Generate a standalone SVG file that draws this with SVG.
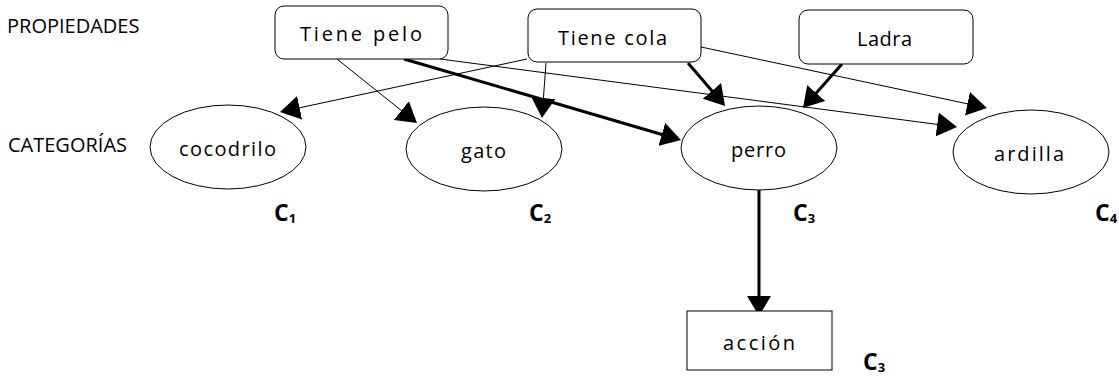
<svg xmlns="http://www.w3.org/2000/svg" width="1119" height="376" viewBox="0 0 1119 376">
  <style>
    text { font-family: "Open Sans", "Noto Sans", "Liberation Sans", sans-serif; fill: #000; }
    .side { font-size: 20px; }
    .lbl { font-size: 20px; }
    .cls { font-size: 23px; font-weight: bold; }
    .cls tspan.sub { font-size: 13px; }
    .prop { fill: #fff; stroke: #000; stroke-width: 1; }
    .cat { fill: #fff; stroke: #000; stroke-width: 1; }
    .act { fill: #fff; stroke: #000; stroke-width: 1; }
    .thin { stroke: #000; stroke-width: 1; fill: none; marker-end: url(#arrow); }
    .thick { stroke: #000; stroke-width: 3; fill: none; marker-end: url(#arrow); }
  </style>
  <defs>
    <marker id="arrow" markerUnits="userSpaceOnUse" markerWidth="20" markerHeight="24" viewBox="0 0 20 24" refX="10" refY="12" orient="auto">
      <path d="M0,0 L20,12 L0,24 z" fill="#000"/>
    </marker>
  </defs>

  <rect width="1119" height="376" fill="#fff"/>

  <!-- row headings -->
  <g id="headings">
    <text class="side" x="7" y="33">PROPIEDADES</text>
    <text class="side" x="8" y="152">CATEGORÍAS</text>
  </g>

  <!-- connectors -->
  <g id="connectors">
    <line class="thin" x1="337" y1="59" x2="409.2" y2="116.8"/>
    <line class="thick" x1="404" y1="59" x2="671.4" y2="137.2"/>
    <line class="thin" x1="440" y1="59" x2="947.1" y2="125.7"/>
    <line class="thin" x1="527" y1="59" x2="289.8" y2="109.9"/>
    <line class="thin" x1="546" y1="63" x2="542.7" y2="108"/>
    <line class="thick" x1="688" y1="63" x2="718.5" y2="98.4"/>
    <line class="thin" x1="701" y1="47" x2="977.2" y2="105.9"/>
    <line class="thick" x1="842" y1="64" x2="809.6" y2="100.5"/>
    <line class="thick" x1="759" y1="190" x2="759" y2="306"/>
  </g>

  <!-- properties -->
  <g id="tiene-pelo">
    <rect class="prop" x="275" y="6" width="173" height="53" rx="9"/>
    <text class="lbl" x="300" y="41" textLength="122" lengthAdjust="spacing">Tiene pelo</text>
  </g>
  <g id="tiene-cola">
    <rect class="prop" x="528" y="9" width="173" height="53" rx="9"/>
    <text class="lbl" x="558" y="45" textLength="109" lengthAdjust="spacing">Tiene cola</text>
  </g>
  <g id="ladra">
    <rect class="prop" x="799" y="10" width="174" height="54" rx="9"/>
    <text class="lbl" x="857" y="46" textLength="55" lengthAdjust="spacing">Ladra</text>
  </g>

  <!-- categories -->
  <g id="cocodrilo">
    <ellipse class="cat" cx="228" cy="147" rx="78" ry="42"/>
    <text class="lbl" x="179" y="156" textLength="97" lengthAdjust="spacing">cocodrilo</text>
  </g>
  <g id="gato">
    <ellipse class="cat" cx="484" cy="149" rx="78" ry="42"/>
    <text class="lbl" x="461" y="158" textLength="45" lengthAdjust="spacing">gato</text>
  </g>
  <g id="perro">
    <ellipse class="cat" cx="759" cy="148" rx="78" ry="42"/>
    <text class="lbl" x="731" y="157" textLength="55" lengthAdjust="spacing">perro</text>
  </g>
  <g id="ardilla">
    <ellipse class="cat" cx="1031" cy="152" rx="78" ry="42"/>
    <text class="lbl" x="994" y="161" textLength="70" lengthAdjust="spacing">ardilla</text>
  </g>

  <!-- action -->
  <g id="accion">
    <rect class="act" x="687" y="311" width="145" height="59"/>
    <text class="lbl" x="723" y="350" textLength="72" lengthAdjust="spacing">acción</text>
  </g>

  <!-- class labels -->
  <g id="class-labels">
    <text class="cls" x="274" y="221">C<tspan class="sub" dy="2">1</tspan></text>
    <text class="cls" x="529" y="221">C<tspan class="sub" dy="2">2</tspan></text>
    <text class="cls" x="793" y="221">C<tspan class="sub" dy="2">3</tspan></text>
    <text class="cls" x="1095" y="221">C<tspan class="sub" dy="2">4</tspan></text>
    <text class="cls" x="863" y="370">C<tspan class="sub" dy="2">3</tspan></text>
  </g>
</svg>
